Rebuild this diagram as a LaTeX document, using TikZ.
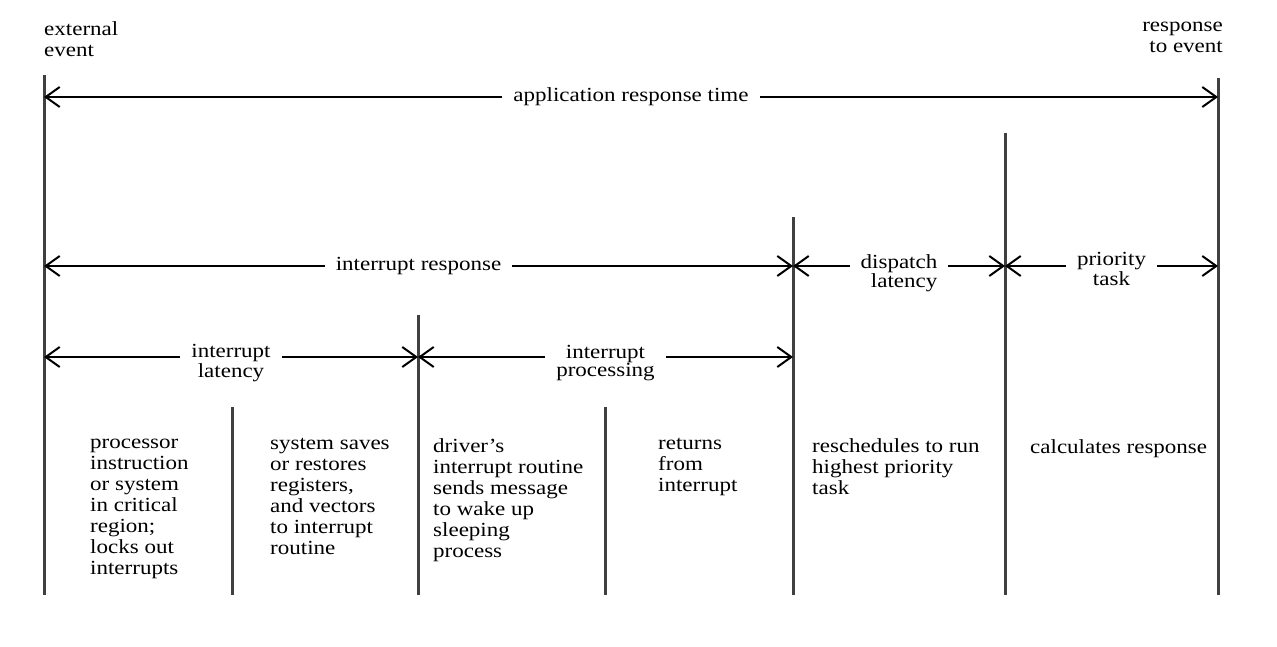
\documentclass[tikz,border=0pt]{standalone}
\usepackage{fontspec}
\setmainfont[FakeStretch=1.15]{Liberation Serif}
\usepackage{tikz}
\usetikzlibrary{arrows.meta}

\begin{document}
\begin{tikzpicture}[x = 1pt, y = -1pt,
  bar/.style = {line width = 3pt, black!75},
  span/.style = {line width = 2pt, {Straight Barb[length = 14pt, width = 20pt]}-{Straight Barb[length = 14pt, width = 20pt]}},
  lbl/.style = {fill = white, inner xsep = 11pt, inner ysep = 1pt, align = center, yshift = -6pt, font = \fontsize{20}{18}\selectfont},
  txt/.style = {anchor = north west, align = left, inner sep = 0pt, font = \fontsize{20}{21}\selectfont, execute at begin node = \strut}]
  \useasboundingbox (0, 0) rectangle (1277, 647);
  \foreach \x/\top [count = \i from 0] in {44/75, 232/407, 418/315, 605/407, 793/217, 1005/133, 1218/78} {
    \draw [bar] (\x, \top) -- (\x, 595);
    \coordinate (a\i) at (\x, 97);
    \coordinate (r\i) at (\x, 266);
    \coordinate (l\i) at (\x, 357);
  }
  \node[txt] (ext) at (44, 21.5) {external\\event};
  \node[txt, anchor = north east, align = right] (resp) at (1223, 21.5) {response\\to event};
  \draw [span] (a0) -- (a6) node[lbl, midway, yshift = 6pt] (app) {application response time};
  \draw [span] (r0) -- (r4) node[lbl, midway, yshift = 6pt] (irsp) {interrupt response};
  \draw [span] (r4) -- (r5) node[lbl, midway, align = right, yshift = -1pt, font = \fontsize{20}{14}\selectfont] (disp) {dispatch\\latency};
  \draw [span] (r5) -- (r6) node[lbl, midway, yshift = 3pt] (prio) {priority\\task};
  \draw [span] (l0) -- (l2) node[lbl, midway] (ilat) {interrupt\\latency};
  \draw [span] (l2) -- (l4) node[lbl, midway] (iproc) {interrupt\\processing};
  \node[txt] (proc) at (90, 438.5) {processor\\instruction\\or system\\in critical\\region;\\locks out\\interrupts};
  \node[txt] (save) at (270, 438.5) {system saves\\or restores\\registers,\\and vectors\\to interrupt\\routine};
  \node[txt] (drv) at (433, 438.5) {driver’s\\interrupt routine\\sends message\\to wake up\\sleeping\\process};
  \node[txt] (ret) at (658, 438.5) {returns\\from\\interrupt};
  \node[txt] (resch) at (812, 438.5) {reschedules to run\\highest priority\\task};
  \node[txt] (calc) at (1030, 438.5) {calculates response};
\end{tikzpicture}
\end{document}
